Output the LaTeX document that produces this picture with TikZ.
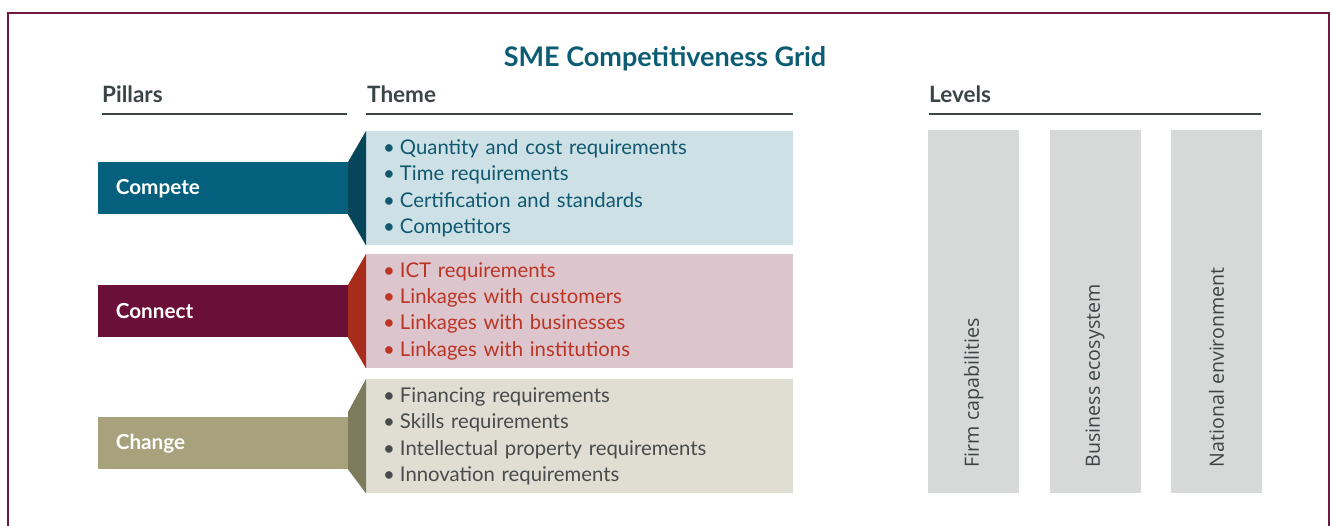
\documentclass[tikz,border=0pt]{standalone}
\usepackage{fontspec}
\setmainfont{Lato}
\newfontfamily\levelfont{Open Sans}
\usetikzlibrary{positioning}

\definecolor{frameRed}{HTML}{6E1A40}
\definecolor{headGray}{HTML}{3C4545}
\definecolor{titleTeal}{HTML}{0C5D74}
\definecolor{competeBar}{HTML}{05607D}
\definecolor{competeDark}{HTML}{05465A}
\definecolor{competeBox}{HTML}{CDE0E5}
\definecolor{competeText}{HTML}{0F5870}
\definecolor{connectBar}{HTML}{6A1038}
\definecolor{connectDark}{HTML}{A72C1B}
\definecolor{connectBox}{HTML}{DCC5CC}
\definecolor{connectText}{HTML}{BC3424}
\definecolor{changeBar}{HTML}{A8A27C}
\definecolor{changeDark}{HTML}{7D7B5C}
\definecolor{changeBox}{HTML}{E0DED2}
\definecolor{changeText}{HTML}{474B4B}
\definecolor{levelGray}{HTML}{D7D8D8}

\tikzset{
  header/.style={anchor=base west, inner sep=0pt, text=headGray,
    font=\fontsize{22.5}{26}\selectfont\bfseries},
  headrule/.style={draw=headGray, line width=1.4pt},
  pillar/.style={minimum width=250pt, minimum height=52pt, inner xsep=18pt,
    text=white, align=left, text width=214pt,
    font=\fontsize{20.7}{24}\selectfont\bfseries},
  theme/.style={anchor=north west, minimum width=427pt, minimum height=114pt,
    inner xsep=17pt, inner ysep=0pt, text width=393pt, align=left,
    font=\fontsize{20.3}{26.3}\selectfont},
  level/.style={fill=levelGray, minimum width=91pt, minimum height=363pt,
    inner sep=0pt},
  leveltext/.style={rotate=90, anchor=west, inner sep=0pt, text=headGray,
    font=\levelfont\fontsize{19.6}{23}\selectfont}
}

\begin{document}
\begin{tikzpicture}[x=1pt, y=-1pt]
\useasboundingbox (0,0) rectangle (1333,525);
% frame
\draw[frameRed, line width=2pt] (8,530) -- (8,13) -- (1329,13) -- (1329,530);

% title and headers
\node[text=titleTeal, font=\fontsize{27}{32}\selectfont\bfseries, anchor=base] (title) at (665,66) {SME Competitiveness Grid};
\node[header] (pillarshead) at (102,102) {Pillars};
\node[header] (themehead) at (367,102) {Theme};
\node[header] (levelshead) at (929,102) {Levels};
\draw[headrule] (102,114) -- (347,114);
\draw[headrule] (366,114) -- (793,114);
\draw[headrule] (929,114) -- (1261,114);

% themes
\node[theme, fill=competeBox, text=competeText] (competebox) at (366,131)
  {\textbullet\hspace{5pt}Quantity and cost requirements\\
   \textbullet\hspace{5pt}Time requirements\\
   \textbullet\hspace{5pt}Certification and standards\\
   \textbullet\hspace{5pt}Competitors};
\node[theme, fill=connectBox, text=connectText] (connectbox) at (366,254)
  {\textbullet\hspace{5pt}ICT requirements\\
   \textbullet\hspace{5pt}Linkages with customers\\
   \textbullet\hspace{5pt}Linkages with businesses\\
   \textbullet\hspace{5pt}Linkages with institutions};
\node[theme, fill=changeBox, text=changeText] (changebox) at (366,379)
  {\textbullet\hspace{5pt}Financing requirements\\
   \textbullet\hspace{5pt}Skills requirements\\
   \textbullet\hspace{5pt}Intellectual property requirements\\
   \textbullet\hspace{5pt}Innovation requirements};

% pillars
\node[pillar, fill=competeBar, left=18pt of competebox] (compete) {Compete};
\node[pillar, fill=connectBar, left=18pt of connectbox] (connect) {Connect};
\node[pillar, fill=changeBar, left=18pt of changebox, yshift=-7pt] (change) {Change};

% joins
\fill[competeDark] (compete.north east) -- (competebox.north west) -- (competebox.south west) -- (compete.south east) -- cycle;
\fill[connectDark] (connect.north east) -- (connectbox.north west) -- (connectbox.south west) -- (connect.south east) -- cycle;
\fill[changeDark] ([yshift=5pt]change.north east) -- (changebox.north west) -- (changebox.south west) -- (change.south east) -- cycle;

% levels
\node[level, anchor=north west] (firm) at (928,130) {};
\node[level, right=30pt of firm] (ecosystem) {};
\node[level, right=30pt of ecosystem] (national) {};
\node[leveltext] at ([yshift=26pt]firm.south) {Firm capabilities};
\node[leveltext] at ([yshift=26pt]ecosystem.south) {Business ecosystem};
\node[leveltext] at ([yshift=26pt]national.south) {National environment};
\end{tikzpicture}
\end{document}
